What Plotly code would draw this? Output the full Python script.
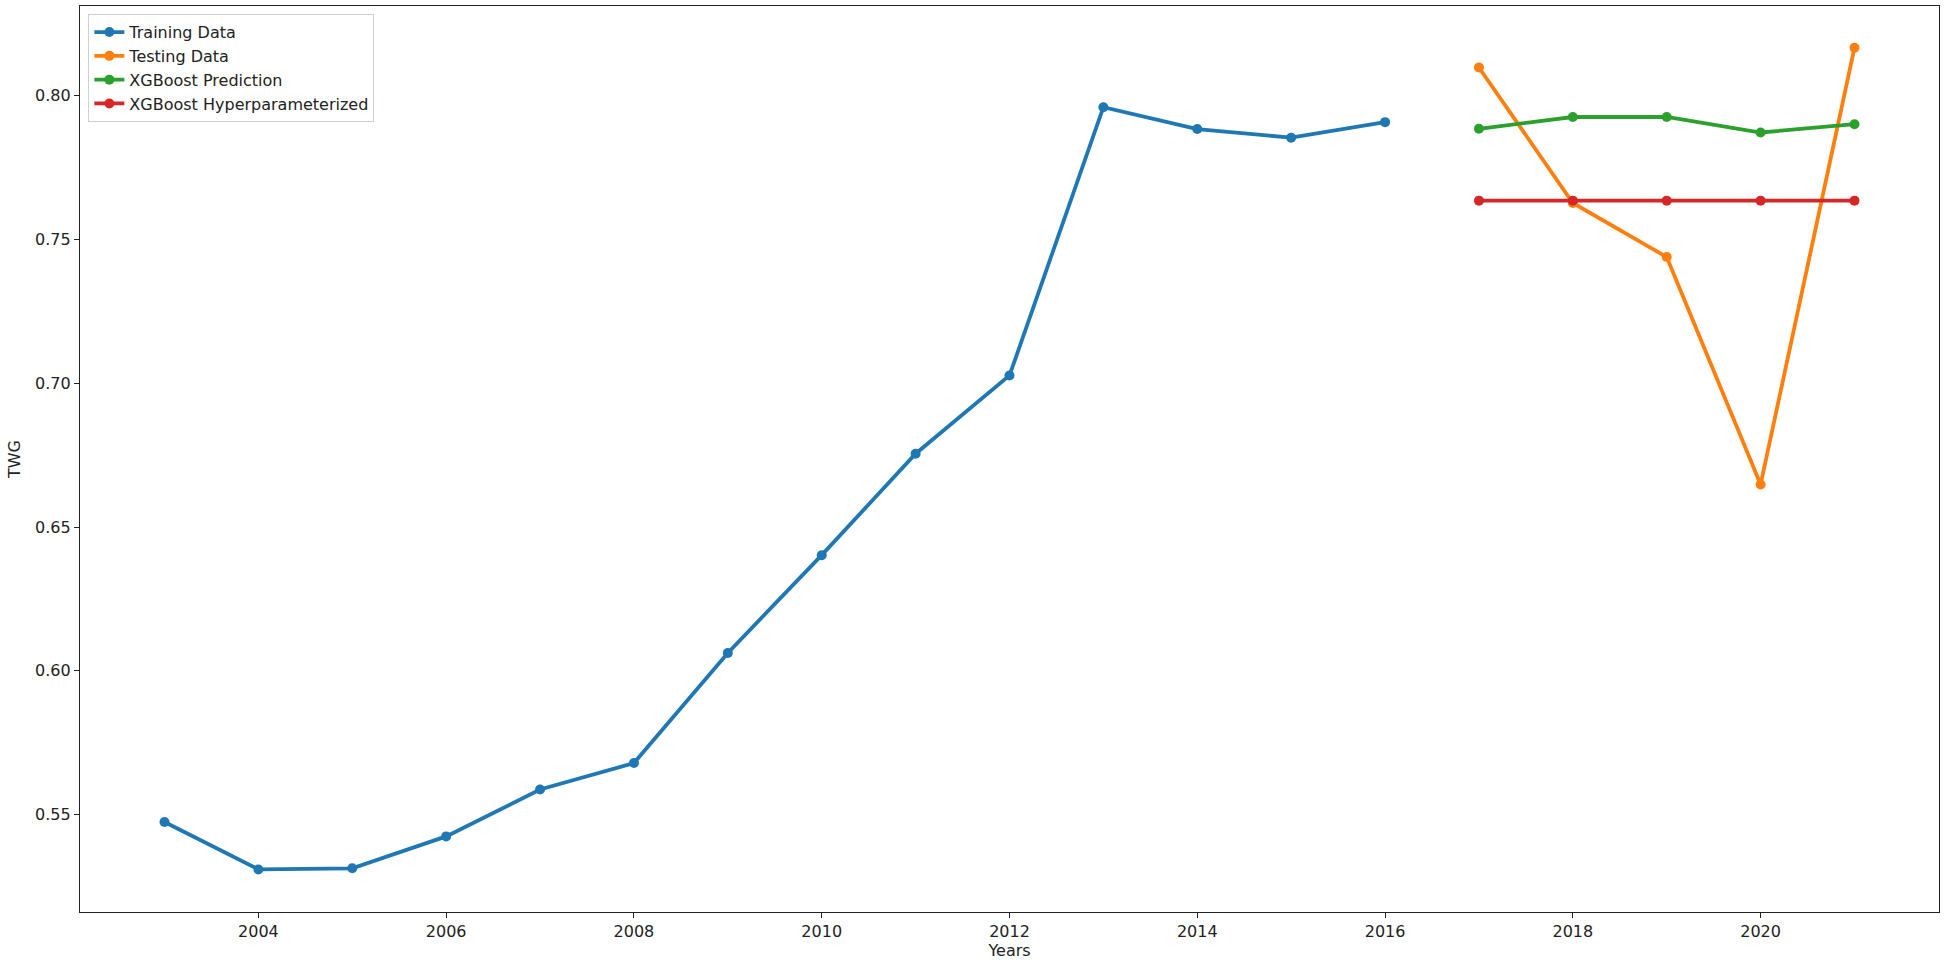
import plotly.graph_objects as go

# values
train_years = [2003, 2004, 2005, 2006, 2007, 2008, 2009, 2010, 2011, 2012, 2013, 2014, 2015, 2016]
train_twg = [0.5474, 0.5309, 0.5313, 0.5424, 0.5587, 0.5679, 0.6062, 0.6402, 0.6755,
             0.7027, 0.7960, 0.7884, 0.7854, 0.7908]

test_years = [2017, 2018, 2019, 2020, 2021]
test_twg = [0.8098, 0.7627, 0.7439, 0.6648, 0.8167]
xgb_pred = [0.7885, 0.7926, 0.7926, 0.7872, 0.7901]
xgb_hyper = [0.7635, 0.7635, 0.7635, 0.7635, 0.7635]

x_ticks = [2004, 2006, 2008, 2010, 2012, 2014, 2016, 2018, 2020]
y_ticks = [0.55, 0.60, 0.65, 0.70, 0.75, 0.80]

COLORS = {
    "Training Data": "#1f77b4",
    "Testing Data": "#ff7f0e",
    "XGBoost Prediction": "#2ca02c",
    "XGBoost Hyperparameterized": "#d62728",
}

series = [
    ("Training Data", train_years, train_twg),
    ("Testing Data", test_years, test_twg),
    ("XGBoost Prediction", test_years, xgb_pred),
    ("XGBoost Hyperparameterized", test_years, xgb_hyper),
]

fig = go.Figure()
for name, xs, ys in series:
    fig.add_trace(go.Scatter(
        x=xs, y=ys,
        name=name,
        mode="lines+markers",
        line=dict(color=COLORS[name], width=3.8),
        marker=dict(color=COLORS[name], size=10),
    ))

axis_common = dict(
    showline=True, mirror=True, linecolor="#222", linewidth=1.2,
    ticks="outside", ticklen=5, tickcolor="#222",
    showgrid=False, zeroline=False,
    tickfont=dict(size=16, color="#222"),
)

fig.update_layout(
    width=1945, height=964,
    font=dict(family="DejaVu Sans", color="#222"),
    plot_bgcolor="white",
    paper_bgcolor="white",
    margin=dict(l=80, r=6, t=6, b=52),
    xaxis=dict(range=[2002.1, 2021.9], tickvals=x_ticks,
               title=dict(text="Years", font=dict(size=16), standoff=4),
               **axis_common),
    yaxis=dict(range=[0.5161, 0.8312], tickvals=y_ticks, tickformat=".2f",
               title=dict(text="TWG", font=dict(size=16), standoff=10),
               **axis_common),
    legend=dict(x=0.0045, y=0.991, xanchor="left", yanchor="top",
                bgcolor="rgba(255,255,255,0.8)", bordercolor="#d0d0d0", borderwidth=1,
                font=dict(size=16)),
    showlegend=True,
)

fig.write_html("out.html", config={"displayModeBar": False},
               post_script="document.body.style.margin='0';")
